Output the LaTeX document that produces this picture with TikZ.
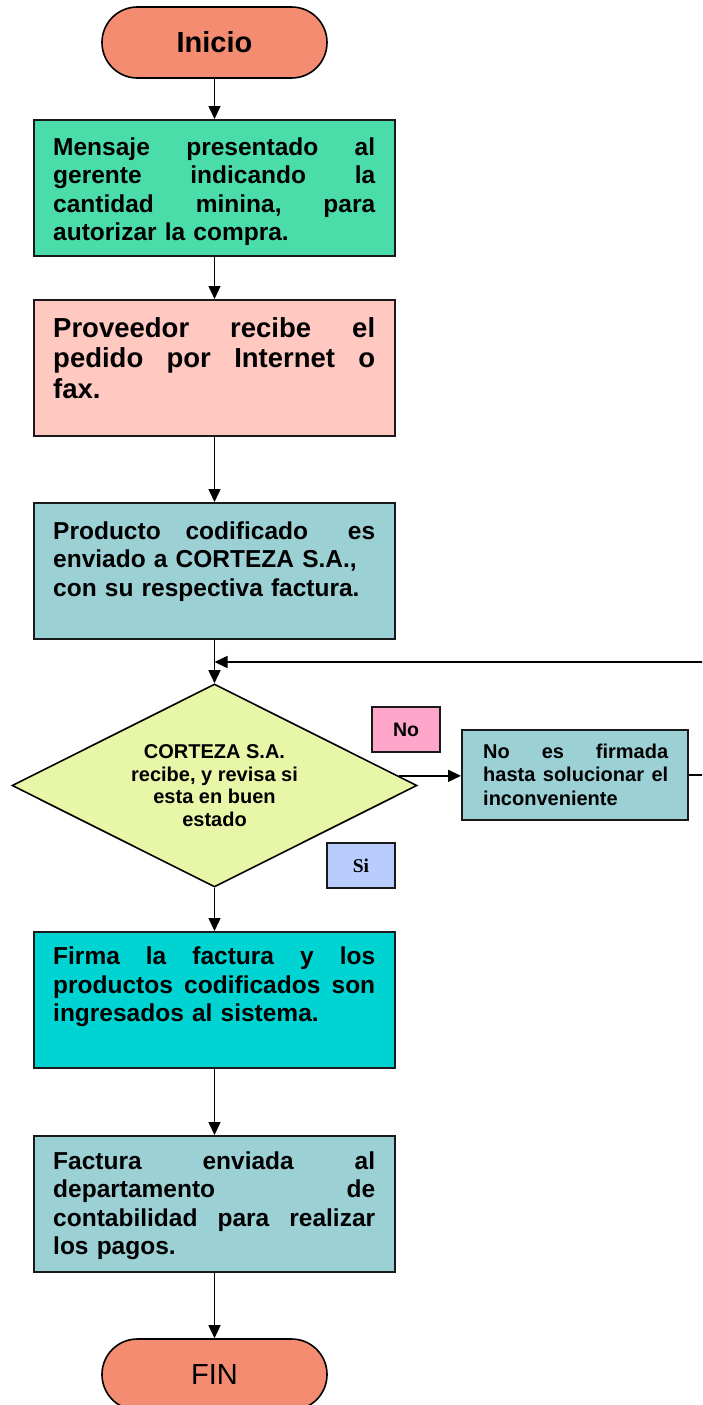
\documentclass[tikz,border=0pt]{standalone}
\usepackage{fontspec}
\setmainfont{Liberation Sans}
\newfontfamily\timesf{Liberation Serif}
\usetikzlibrary{arrows.meta,shapes.geometric}
\definecolor{termc}{HTML}{F48C71}
\definecolor{greenc}{HTML}{4ADDAA}
\definecolor{pinkc}{HTML}{FFC8C1}
\definecolor{tealc}{HTML}{9BD0D4}
\definecolor{cyanc}{HTML}{00D4D3}
\definecolor{decc}{HTML}{E7F7A7}
\definecolor{nolab}{HTML}{FFA7CA}
\definecolor{silab}{HTML}{B8CDFE}
\newcommand{\jl}[2]{\leavevmode\hbox to #1{#2}}
\tikzset{
  conn/.style={line width=1.5pt, -{Triangle[length=13pt,width=12pt]}},
  procbox/.style={draw=black!90, line width=2pt, minimum width=361pt, minimum height=136pt, inner sep=0pt},
  term/.style={draw=black, line width=1.6pt, fill=termc, rounded corners=35.4pt, minimum width=225pt, minimum height=71pt, inner sep=0pt, font=\fontsize{29}{33}\selectfont},
  bodytext/.style={anchor=north west, inner sep=0pt, text width=322pt, align=left, execute at begin node=\setlength{\parindent}{0pt}, font=\bfseries\fontsize{24.5}{28.4}\selectfont},
  smalltext/.style={anchor=north west, inner sep=0pt, text width=185pt, align=left, execute at begin node=\setlength{\parindent}{0pt}, font=\bfseries\fontsize{20}{23.3}\selectfont},
  labbox/.style={draw=black!90, line width=1.5pt, minimum width=68pt, minimum height=45pt, inner sep=0pt},
}
\begin{document}
\begin{tikzpicture}[x=1pt,y=-1pt]
\useasboundingbox (0,0) rectangle (702,1405);
\clip (0,0) rectangle (702,1405);

% terminals
\node[term, font=\bfseries\fontsize{29}{33}\selectfont] (inicio) at (214.5,42.5) {Inicio};
\node[term] (fin) at (214.5,1374.5) {FIN};

% process boxes
\node[procbox, fill=greenc] (b1) at (214.5,188) {};
\node[bodytext] (t1) at (53,137.5) {\jl{322pt}{Mensaje\hfill presentado\hfill al}\\\jl{322pt}{gerente\hfill indicando\hfill la}\\\jl{322pt}{cantidad\hfill minina,\hfill para}\\autorizar la compra.};

\node[procbox, fill=pinkc] (b2) at (214.5,368) {};
\node[bodytext, font=\bfseries\fontsize{27.5}{30.5}\selectfont] (t2) at (53,317.3) {\jl{322pt}{Proveedor\hfill recibe\hfill el}\\\jl{322pt}{pedido\hfill por\hfill Internet\hfill o}\\fax.};

\node[procbox, fill=tealc] (b3) at (214.5,571) {};
\node[bodytext] (t3) at (53,521.5) {\jl{322pt}{Producto\hfill codificado\hskip 0pt plus 1.6fill es}\\\jl{322pt}{enviado a CORTEZA S.A.,}\\con su respectiva factura.};

% decision
\node[diamond, aspect=2, draw=black, line width=1.6pt, fill=decc, minimum width=405pt, minimum height=203pt, inner sep=0pt, align=center, font=\bfseries\fontsize{20}{22.7}\selectfont] (dec) at (214.5,785.5) {CORTEZA S.A.\\recibe, y revisa si\\esta en buen\\estado};

\node[procbox, fill=tealc, minimum width=226pt, minimum height=90pt] (nob) at (575,775) {};
\node[smalltext] (tn) at (483,743.7) {\jl{185pt}{No\hfill es\hfill firmada}\\\jl{185pt}{hasta\hfill solucionar\hfill el}\\inconveniente};

\node[labbox, fill=nolab, font=\bfseries\fontsize{19.5}{22}\selectfont] (nolabel) at (406,729.5) {No};
\node[labbox, fill=silab, font=\timesf\bfseries\fontsize{19.5}{22}\selectfont] (silabel) at (361,865.5) {Si};

\node[procbox, fill=cyanc] (b4) at (214.5,1000) {};
\node[bodytext] (t4) at (53,947) {\jl{322pt}{Firma\hfill la\hfill factura\hfill y\hfill los}\\\jl{322pt}{productos\hfill codificados\hfill son}\\ingresados al sistema.};

\node[procbox, fill=tealc] (b5) at (214.5,1204) {};
\node[bodytext] (t5) at (53,1151.5) {\jl{322pt}{Factura\hfill enviada\hfill al}\\\jl{322pt}{departamento\hfill de}\\\jl{322pt}{contabilidad\hfill para\hfill realizar}\\los pagos.};

% connectors
\draw[conn] (inicio.south) -- (b1.north);
\draw[conn] (b1.south) -- (b2.north);
\draw[conn] (b2.south) -- (b3.north);
\draw[conn] (b3.south) -- (dec.north);
\draw[conn] (dec.3.3) -- (dec.3.3 -| nob.west);
\coordinate (fbR) at (730,662);
\draw[conn] (nob.east) -| (fbR) -- (fbR -| dec.north);
\draw[conn] (dec.south) -- (b4.north);
\draw[conn] (b4.south) -- (b5.north);
\draw[conn] (b5.south) -- (fin.north);
\end{tikzpicture}
\end{document}
